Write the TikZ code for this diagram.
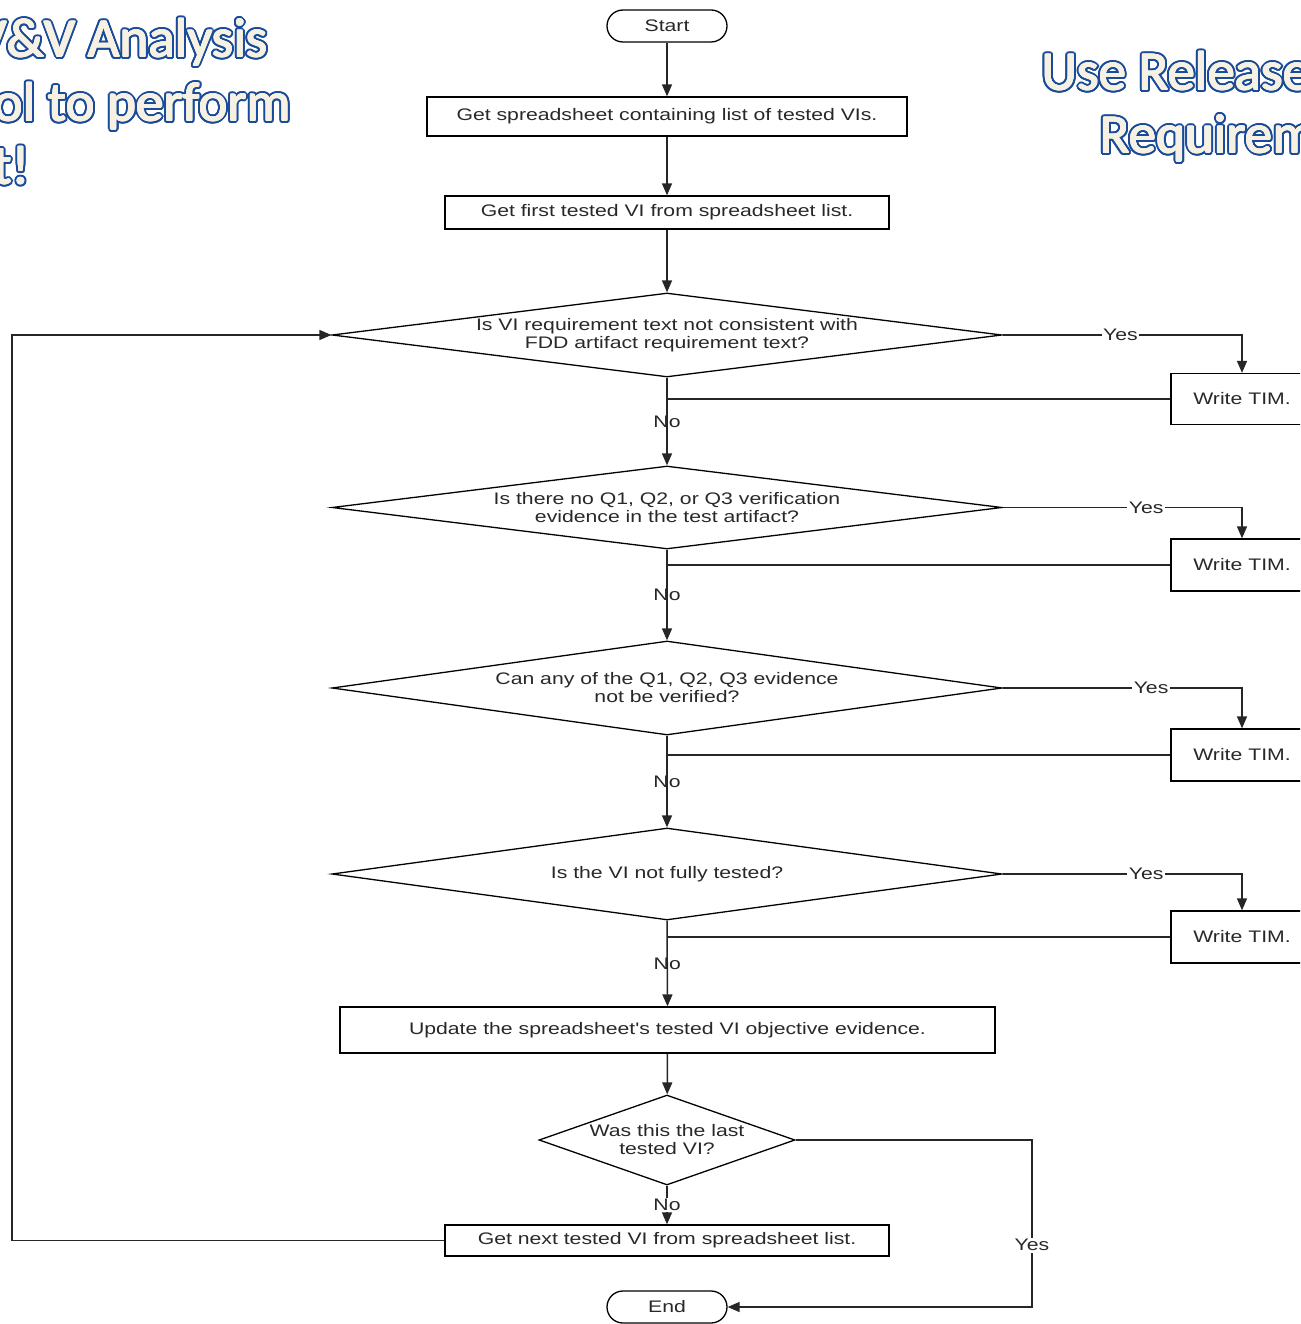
\documentclass[tikz,border=0pt]{standalone}
\usepackage{fontspec}
\setmainfont{Liberation Sans}
\newfontfamily\flowfont[FakeStretch=1.27]{Liberation Sans}
\newfontfamily\bigfont{Carlito}
\usetikzlibrary{shapes.geometric,arrows.meta}

\definecolor{vvblue}{RGB}{25,75,155}
\definecolor{vvcream}{RGB}{246,241,226}
\definecolor{ink}{RGB}{40,40,40}

\tikzset{
  flowtext/.style={font=\flowfont\fontsize{16.7}{18}\selectfont, text=ink},
  terminal/.style={flowtext, draw, line width=1.3pt, rounded corners=16pt, minimum width=120pt, minimum height=32pt, inner sep=0pt},
  process/.style={flowtext, draw, line width=1.3pt, rectangle, inner sep=0pt},
  decision/.style={flowtext, draw, line width=1.3pt, diamond, inner sep=0pt, align=center},
  flowline/.style={line width=1.5pt, draw=black!85},
  arr/.style={flowline, -{Triangle[length=12pt,width=10pt]}},
  answer/.style={flowtext, inner sep=1.5pt},
  bigtext/.style={font=\bigfont\fontsize{55}{63}\selectfont, inner sep=0pt},
}

\newcommand\glowline[3]{%
  \foreach \ang in {0,15,...,345}
    \node[bigtext, text=vvblue, anchor=#2, shift={(\ang:2.6)}] at #1 {#3};
  \foreach \ang in {0,45,...,315}
    \node[bigtext, text=vvcream, anchor=#2, shift={(\ang:0.6)}] at #1 {#3};
  \node[bigtext, text=vvcream, anchor=#2] at #1 {#3};
}

\begin{document}
\begin{tikzpicture}[x=1pt, y=-1pt]
  \useasboundingbox (0,0) rectangle (1300,1324);
  \clip (0,0) rectangle (1300,1324);

  % headline texts
  \glowline{(268,57)}{base east}{V\&V Analysis}
  \glowline{(291,121)}{base east}{ol to perform}
  \glowline{(30,184)}{base east}{t!}
  \glowline{(1042,90)}{base west}{Use Release}
  \glowline{(1100,153)}{base west}{Requirem}

  % main column
  \node[terminal] (start) at (667,26) {Start};
  \node[process, minimum width=480pt, minimum height=39pt] (getlist) at (667,116.5) {Get spreadsheet containing list of tested VIs.};
  \node[process, minimum width=444pt, minimum height=33pt] (getfirst) at (667,212.5) {Get first tested VI from spreadsheet list.};

  \node[decision, minimum width=670pt, minimum height=84pt, aspect=7.98] (qtext) at (667,335) {Is VI requirement text not consistent with\\FDD artifact requirement text?};
  \node[decision, minimum width=670pt, minimum height=83pt, aspect=8.07] (qevid) at (667,507.5) {Is there no Q1, Q2, or Q3 verification\\evidence in the test artifact?};
  \node[decision, minimum width=670pt, minimum height=94pt, aspect=7.13] (qverif) at (667,688) {Can any of the Q1, Q2, Q3 evidence\\not be verified?};
  \node[decision, minimum width=670pt, minimum height=92pt, aspect=7.28] (qfull) at (667,874) {Is the VI not fully tested?};

  \node[process, minimum width=655pt, minimum height=46pt] (update) at (667.5,1030) {Update the spreadsheet's tested VI objective evidence.};
  \node[decision, minimum width=256pt, minimum height=90pt, aspect=2.84] (qlast) at (667,1140) {Was this the last\\tested VI?};
  \node[process, minimum width=444pt, minimum height=31pt] (getnext) at (667,1240.5) {Get next tested VI from spreadsheet list.};
  \node[terminal] (end) at (667,1307) {End};

  % TIM boxes
  \node[process, minimum width=142pt, minimum height=51pt] (tima) at (1242,399) {Write TIM.};
  \node[process, minimum width=142pt, minimum height=52pt] (timb) at (1242,565) {Write TIM.};
  \node[process, minimum width=142pt, minimum height=52pt] (timc) at (1242,755) {Write TIM.};
  \node[process, minimum width=142pt, minimum height=52pt] (timd) at (1242,937) {Write TIM.};

  \coordinate (loopx) at (12,335);
  \coordinate (lastx) at (1032,1140);

  % connectors
  \draw[arr] (start) -- (getlist);
  \draw[arr] (getlist) -- (getfirst);
  \draw[arr] (getfirst) -- (qtext);

  \draw[arr] (qtext.east) -| node[answer, fill=white, pos=0.246] {Yes} (tima.north);
  \draw[flowline] (tima.west) -- (tima.west -| qtext.south);
  \draw[arr] (qtext.south) -- node[answer] {No} (qevid.north);

  \draw[arr] (qevid.east) -| node[answer, fill=white, pos=0.3] {Yes} (timb.north);
  \draw[flowline] (timb.west) -- (timb.west -| qevid.south);
  \draw[arr] (qevid.south) -- node[answer] {No} (qverif.north);

  \draw[arr] (qverif.east) -| node[answer, fill=white, pos=0.31] {Yes} (timc.north);
  \draw[flowline] (timc.west) -- (timc.west -| qverif.south);
  \draw[arr] (qverif.south) -- node[answer] {No} (qfull.north);

  \draw[arr] (qfull.east) -| node[answer, fill=white, pos=0.3] {Yes} (timd.north);
  \draw[flowline] (timd.west) -- (timd.west -| qfull.south);
  \draw[arr] (qfull.south) -- node[answer] {No} (update.north);

  \draw[arr] (update) -- (qlast);
  \draw[arr] (qlast.south) -- node[answer, fill=white] {No} (getnext.north);
  \draw[arr] (getnext.west) -| (loopx) -- (qtext.west);
  \draw[arr] (qlast.east) -- (lastx) |- node[answer, fill=white, pos=0.315] {Yes} (end.east);
\end{tikzpicture}
\end{document}
